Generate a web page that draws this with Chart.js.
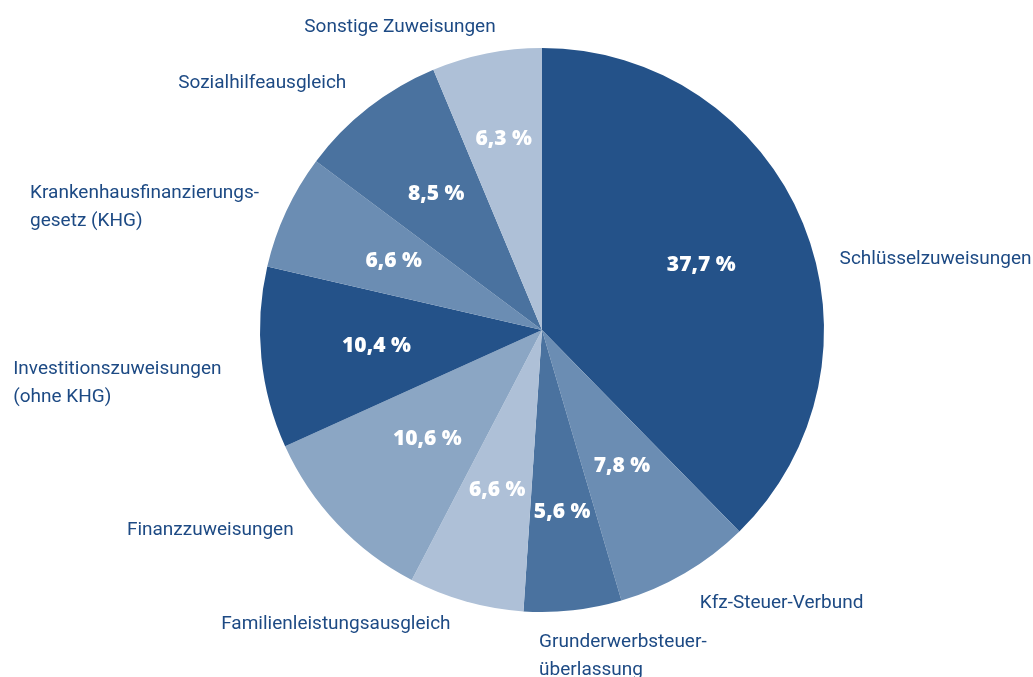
<!DOCTYPE html>
<html>
<head>
<meta charset="utf-8">
<script src="https://cdn.jsdelivr.net/npm/chart.js@4.4.1/dist/chart.umd.min.js"></script>
<style>
  html, body { margin: 0; padding: 0; background: #ffffff; }
  #wrap { width: 1033px; height: 677px; }
</style>
</head>
<body>
<div id="wrap"><canvas id="myChart"></canvas></div>
<script>
// data, clockwise from 12 o'clock
var categories = [
	'Schlüsselzuweisungen',
	'Kfz-Steuer-Verbund',
	'Grunderwerbsteuer-\nüberlassung',
	'Familienleistungsausgleich',
	'Finanzzuweisungen',
	'Investitionszuweisungen\n(ohne KHG)',
	'Krankenhausfinanzierungs-\ngesetz (KHG)',
	'Sozialhilfeausgleich',
	'Sonstige Zuweisungen'
];
var shares = [37.7, 7.8, 5.6, 6.6, 10.6, 10.4, 6.6, 8.5, 6.3];

var sliceColors = ['#245289', '#6b8db3', '#4a729f', '#aec0d7', '#8ba6c4',
	'#245289', '#6b8db3', '#4a729f', '#aec0d7'];

// label layout: inside radius fraction, outside nudge [dx, dy]
var innerPos = [0.61, 0.56, 0.65, 0.59, 0.56, 0.59, 0.58, 0.61, 0.69];
var outerNudge = [[18, 43], [5, 13], [-36, 26], [-10, 3], [-29, -7], [-20, 23], [-9, 4], [-10, -9], [13, -7]];

var textBlue = '#1d4a84';

/* draws percentages inside and names outside */
var labelPlugin = {
	id: 'sliceLabels',
	afterDatasetsDraw: function(chart) {
		var ctx = chart.ctx;
		var arcs = chart.getDatasetMeta(0).data;
		ctx.save();
		arcs.forEach(function(arc, i) {
			var mid = (arc.startAngle + arc.endAngle) / 2;
			var r = arc.outerRadius;

			// percentage
			var d = r * innerPos[i];
			ctx.fillStyle = '#ffffff';
			ctx.font = '800 21px "Open Sans"';
			ctx.textAlign = 'center';
			ctx.textBaseline = 'middle';
			ctx.fillText(shares[i].toFixed(1).replace('.', ',') + ' %',
				arc.x + Math.cos(mid) * d, arc.y + Math.sin(mid) * d);

			// category name
			var ax = arc.x + Math.cos(mid) * (r + 20) + outerNudge[i][0];
			var ay = arc.y + Math.sin(mid) * (r + 20) + outerNudge[i][1];
			var lines = categories[i].split('\n');
			ctx.font = '19px Roboto';
			ctx.fillStyle = textBlue;
			ctx.textAlign = 'left';
			var w = 0;
			lines.forEach(function(l) { w = Math.max(w, ctx.measureText(l).width); });
			var left = Math.cos(mid) >= 0 ? ax : ax - w;
			var lh = 28;
			var top = ay - (lines.length - 1) * lh / 2;
			lines.forEach(function(l, k) {
				ctx.fillText(l, left, top + k * lh);
			});
		});
		ctx.restore();
	}
};

var ctx = document.getElementById('myChart').getContext('2d');
var myChart = new Chart(ctx, {
	type: 'pie',
	data: {
		labels: categories,
		datasets: [{
			data: shares,
			backgroundColor: sliceColors,
			borderWidth: 0
		}]
	},
	options: {
		responsive: true,
		maintainAspectRatio: false,
		animation: false,
		layout: {
			padding: { top: 48, bottom: 65, left: 260, right: 209 }
		},
		plugins: {
			legend: { display: false },
			tooltip: { enabled: false }
		}
	},
	plugins: [labelPlugin]
});
</script>
</body>
</html>
